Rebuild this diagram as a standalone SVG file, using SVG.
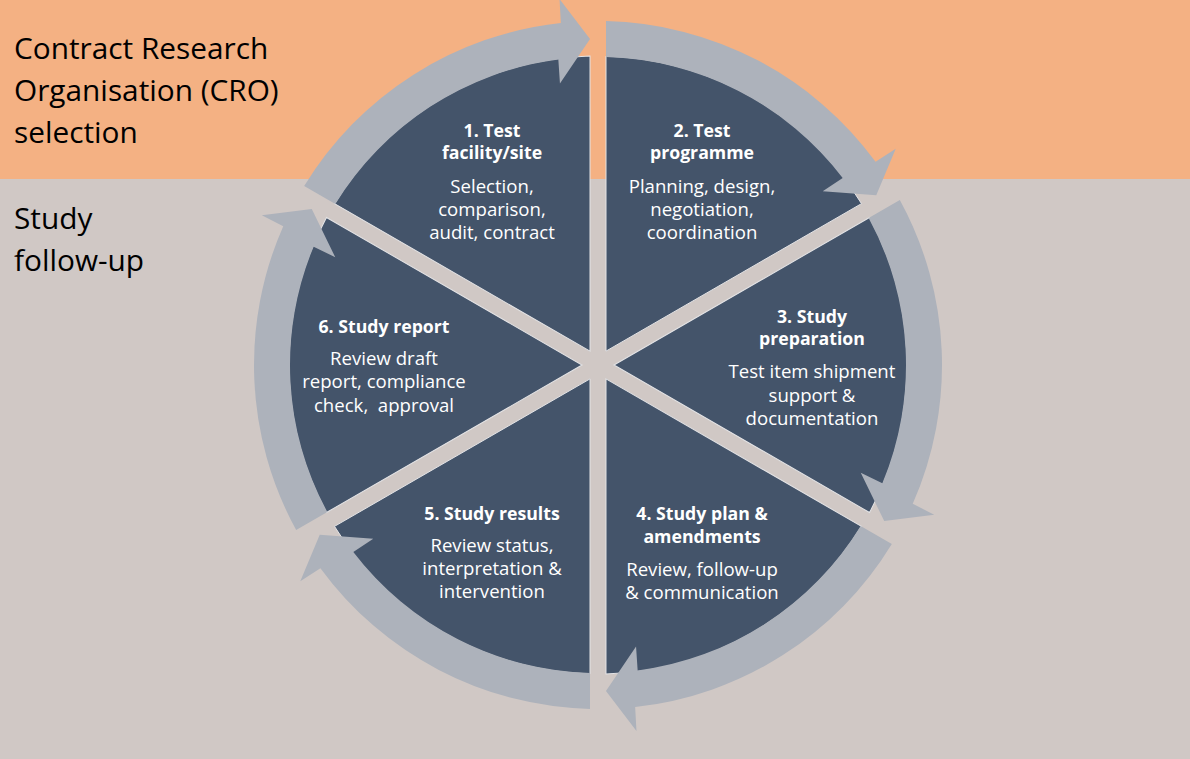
<svg xmlns="http://www.w3.org/2000/svg" xmlns:xlink="http://www.w3.org/1999/xlink" width="1190" height="759" viewBox="0 0 1190 759">
  <style>
    .bg-top { fill: #F4B183; }
    .bg-bot { fill: #D0C8C5; }
    .side { font-family: "Open Sans", "Liberation Sans", sans-serif; font-size: 29.8px; fill: #000000; }
    .sector { fill: #44546A; stroke: #E4E4E6; stroke-width: 1; }
    .arrow { fill: #ADB2BB; }
    .t { font-family: "Open Sans", "Liberation Sans", sans-serif; font-size: 17.7px; font-weight: bold; fill: #FFFFFF; text-anchor: middle; }
    .b { font-family: "Open Sans", "Liberation Sans", sans-serif; font-size: 18.6px; fill: #FFFFFF; text-anchor: middle; }
  </style>
  <defs>
    <path id="slice" d="M 8,-13.86 L 8,-308.9 A 309 309 0 0 1 263.51,-161.37 Z"/>
    <path id="arc-arrow" d="M 8,-343.91 A 344 344 0 0 1 277.59,-203.17 L 297.72,-216.31 L 278.26,-169.85 L 224.71,-173.67 L 244.68,-187.07 A 308 308 0 0 0 8,-307.9 Z"/>
  </defs>

  <rect class="bg-top" x="0" y="0" width="1190" height="179"/>
  <rect class="bg-bot" x="0" y="179" width="1190" height="580"/>

  <g id="side-labels">
    <text class="side" x="14" y="59">Contract Research</text>
    <text class="side" x="14" y="101">Organisation (CRO)</text>
    <text class="side" x="14" y="143">selection</text>
    <text class="side" x="14" y="229">Study</text>
    <text class="side" x="14" y="271">follow-up</text>
  </g>

  <g id="node-1">
    <use xlink:href="#slice" href="#slice" class="sector" transform="translate(598,365) rotate(-60)"/>
    <text class="t" x="492" y="137">1. Test</text>
    <text class="t" x="492" y="159">facility/site</text>
    <text class="b" x="492" y="193">Selection,</text>
    <text class="b" x="492" y="216">comparison,</text>
    <text class="b" x="492" y="239">audit, contract</text>
  </g>

  <g id="node-2">
    <use xlink:href="#slice" href="#slice" class="sector" transform="translate(598,365)"/>
    <text class="t" x="702" y="137">2. Test</text>
    <text class="t" x="702" y="159">programme</text>
    <text class="b" x="702" y="193">Planning, design,</text>
    <text class="b" x="702" y="216">negotiation,</text>
    <text class="b" x="702" y="239">coordination</text>
  </g>

  <g id="node-3">
    <use xlink:href="#slice" href="#slice" class="sector" transform="translate(598,365) rotate(60)"/>
    <text class="t" x="812" y="323">3. Study</text>
    <text class="t" x="812" y="345">preparation</text>
    <text class="b" x="812" y="378">Test item shipment</text>
    <text class="b" x="812" y="402">support &amp;</text>
    <text class="b" x="812" y="425">documentation</text>
  </g>

  <g id="node-4">
    <use xlink:href="#slice" href="#slice" class="sector" transform="translate(598,365) rotate(120)"/>
    <text class="t" x="702" y="520">4. Study plan &amp;</text>
    <text class="t" x="702" y="543">amendments</text>
    <text class="b" x="702" y="576">Review, follow-up</text>
    <text class="b" x="702" y="599">&amp; communication</text>
  </g>

  <g id="node-5">
    <use xlink:href="#slice" href="#slice" class="sector" transform="translate(598,365) rotate(180)"/>
    <text class="t" x="492" y="520">5. Study results</text>
    <text class="b" x="492" y="552">Review status,</text>
    <text class="b" x="492" y="575">interpretation &amp;</text>
    <text class="b" x="492" y="598">intervention</text>
  </g>

  <g id="node-6">
    <use xlink:href="#slice" href="#slice" class="sector" transform="translate(598,365) rotate(240)"/>
    <text class="t" x="384" y="333">6. Study report</text>
    <text class="b" x="384" y="365">Review draft</text>
    <text class="b" x="384" y="388">report, compliance</text>
    <text class="b" x="384" y="412" xml:space="preserve">check,  approval</text>
  </g>

  <g id="connectors">
    <use xlink:href="#arc-arrow" href="#arc-arrow" class="arrow" transform="translate(598,365) rotate(-60)"/>
    <use xlink:href="#arc-arrow" href="#arc-arrow" class="arrow" transform="translate(598,365)"/>
    <use xlink:href="#arc-arrow" href="#arc-arrow" class="arrow" transform="translate(598,365) rotate(60)"/>
    <use xlink:href="#arc-arrow" href="#arc-arrow" class="arrow" transform="translate(598,365) rotate(120)"/>
    <use xlink:href="#arc-arrow" href="#arc-arrow" class="arrow" transform="translate(598,365) rotate(180)"/>
    <use xlink:href="#arc-arrow" href="#arc-arrow" class="arrow" transform="translate(598,365) rotate(240)"/>
  </g>
</svg>
